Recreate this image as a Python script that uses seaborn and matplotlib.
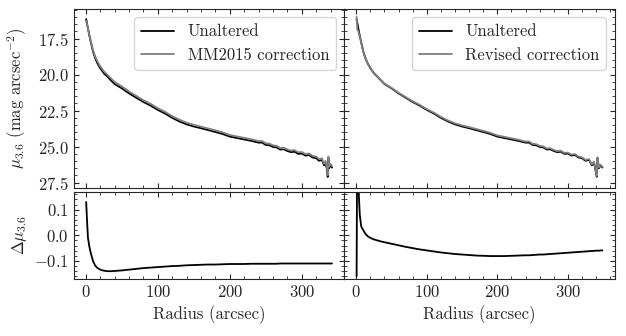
import matplotlib
matplotlib.use("Agg")
import matplotlib.pyplot as plt
import pandas as pd
import seaborn as sns

# radii (arcsec) for the two profiles
radius_mm = [0.5, 1.5, 3, 5, 7, 10, 13, 16, 20, 25,
             30, 35, 40, 50, 60, 70, 80, 90, 100, 110,
             120, 130, 140, 150, 160, 170, 180, 190, 200, 210,
             220, 230, 240, 245, 250, 255, 260, 265, 270, 275,
             280, 285, 290, 295, 300, 305, 310, 315, 320, 324,
             328, 331, 333, 335, 336, 337, 338, 340, 342]
radius_rev = [0.5, 1.5, 3, 5, 7, 10, 13, 16, 20, 25,
              30, 35, 40, 50, 60, 70, 80, 90, 100, 110,
              120, 130, 140, 150, 160, 170, 180, 190, 200, 210,
              220, 230, 240, 245, 250, 255, 260, 265, 270, 275,
              280, 285, 290, 295, 300, 305, 310, 315, 320, 325,
              330, 334, 337, 339, 341, 342, 344, 346, 349]

# unaltered surface brightness (mag arcsec^-2)
mu_unaltered = [16.15, 16.4, 16.8, 17.3, 17.75, 18.4, 18.85, 19.2, 19.55, 19.9,
                20.15, 20.4, 20.65, 20.95, 21.3, 21.6, 21.9, 22.15, 22.45, 22.7,
                23.0, 23.25, 23.45, 23.6, 23.72, 23.85, 23.98, 24.12, 24.3, 24.4,
                24.5, 24.6, 24.72, 24.72, 24.88, 24.9, 25.02, 25.05, 25.2, 25.18,
                25.3, 25.38, 25.35, 25.5, 25.48, 25.62, 25.58, 25.75, 25.8, 25.98,
                25.92, 26.3, 26.1, 26.6, 27.1, 25.8, 26.5, 26.3, 26.45]

# corrected minus unaltered
delta_mm = [0.13, 0.07, -0.01, -0.045, -0.07, -0.1, -0.118, -0.127, -0.134, -0.138,
            -0.14, -0.14, -0.139, -0.137, -0.134, -0.131, -0.128, -0.126, -0.124, -0.122,
            -0.12, -0.119, -0.117, -0.116, -0.115, -0.114, -0.114, -0.113, -0.112, -0.112,
            -0.112, -0.111, -0.111, -0.111, -0.111, -0.111, -0.111, -0.111, -0.11, -0.11,
            -0.11, -0.11, -0.11, -0.11, -0.11, -0.11, -0.11, -0.11, -0.11, -0.11,
            -0.11, -0.11, -0.11, -0.11, -0.11, -0.11, -0.11, -0.11, -0.11]
delta_rev = [-0.16, 0.45, 0.2, 0.08, 0.035, 0.02, 0.006, -0.003, -0.01, -0.016,
             -0.02, -0.024, -0.027, -0.033, -0.039, -0.045, -0.05, -0.055, -0.059, -0.063,
             -0.067, -0.07, -0.073, -0.075, -0.077, -0.079, -0.08, -0.081, -0.081, -0.081,
             -0.08, -0.079, -0.078, -0.078, -0.077, -0.076, -0.075, -0.075, -0.074, -0.073,
             -0.072, -0.071, -0.07, -0.069, -0.068, -0.067, -0.066, -0.065, -0.064, -0.063,
             -0.062, -0.061, -0.061, -0.06, -0.06, -0.06, -0.06, -0.059, -0.059]

sns.set_style("ticks")
plt.rcParams["font.family"] = "cmr10"
plt.rcParams["mathtext.fontset"] = "cm"
plt.rcParams["axes.formatter.use_mathtext"] = True
plt.rcParams["font.size"] = 12
for ax_name in ["xtick", "ytick"]:
    plt.rcParams[f"{ax_name}.direction"] = "in"
    plt.rcParams[f"{ax_name}.minor.visible"] = True
plt.rcParams["xtick.top"] = True
plt.rcParams["ytick.right"] = True

left = pd.DataFrame({"r": radius_mm, "mu": mu_unaltered, "d": delta_mm})
left["corr"] = left["mu"] + left["d"]
right = pd.DataFrame({"r": radius_rev, "mu": mu_unaltered, "d": delta_rev})
right["corr"] = right["mu"] + right["d"]

fig, axes = plt.subplots(
    2, 2, figsize=(6.26, 3.36), dpi=100, sharey="row",
    gridspec_kw={"height_ratios": [2.05, 1], "hspace": 0.03, "wspace": 0},
)
fig.subplots_adjust(left=0.118, right=0.982, top=0.973, bottom=0.170)

for col, (df, name) in enumerate([(left, "MM2015 correction"), (right, "Revised correction")]):
    top, bot = axes[0, col], axes[1, col]
    sns.lineplot(df, x="r", y="mu", ax=top, color="black", lw=1.3, label="Unaltered")
    sns.lineplot(df, x="r", y="corr", ax=top, color="0.5", lw=1.3, label=name)
    sns.lineplot(df, x="r", y="d", ax=bot, color="black", lw=1.3)
    top.legend(loc="upper right", fontsize=12)
    top.tick_params(labelbottom=False)
    top.set_xlabel("")
    top.set_ylabel("")
    bot.set_ylabel("")
    bot.set_xlabel("Radius (arcsec)")
    bot.set_xticks([0, 100, 200, 300])
    bot.set_xlim(bot.get_xlim())
    top.set_xlim(bot.get_xlim())
    top.set_xticks([0, 100, 200, 300])

axes[0, 0].set_ylim(27.85, 15.45)
axes[0, 0].set_yticks([17.5, 20.0, 22.5, 25.0, 27.5])
axes[1, 0].set_ylim(-0.17, 0.17)
axes[1, 0].set_yticks([-0.1, 0.0, 0.1])
axes[0, 0].set_ylabel(r"$\mu_{3.6}$ (mag arcsec$^{-2}$)")
axes[1, 0].set_ylabel(r"$\Delta\mu_{3.6}$")
fig.align_ylabels(axes[:, 0])

plt.savefig("out.png")
